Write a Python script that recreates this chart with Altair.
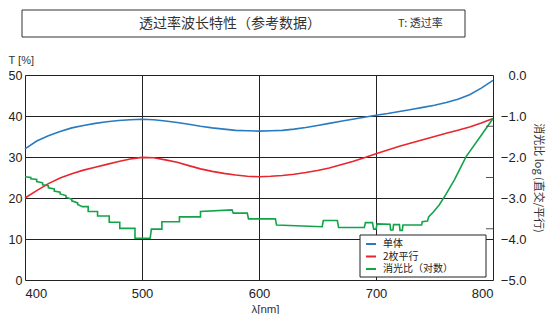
import altair as alt
import pandas as pd

# ---- data ----
wavelength = list(range(400, 801, 10))
single = [32.0, 33.9, 35.2, 36.2, 37.1, 37.7, 38.2, 38.6, 38.9, 39.1, 39.2,
          39.1, 38.8, 38.4, 38.0, 37.5, 37.1, 36.8, 36.5, 36.4, 36.3,
          36.4, 36.5, 36.8, 37.2, 37.7, 38.2, 38.7, 39.2, 39.7, 40.2,
          40.6, 41.1, 41.6, 42.1, 42.6, 43.3, 44.1, 45.2, 46.8, 48.7]
parallel = [20.0, 21.8, 23.5, 24.9, 25.9, 26.8, 27.5, 28.2, 28.9, 29.5, 29.9,
            29.8, 29.3, 28.7, 27.9, 27.1, 26.5, 26.0, 25.6, 25.3, 25.2,
            25.3, 25.5, 25.8, 26.2, 26.7, 27.3, 28.1, 28.9, 29.8, 30.8,
            31.7, 32.6, 33.4, 34.2, 35.0, 35.8, 36.5, 37.3, 38.3, 39.4]

ext_x = [400, 405, 405, 410, 410, 415, 415, 420, 420, 425, 425, 430, 430, 435, 435,
         440, 440, 445, 445, 449, 454, 454, 462, 462, 472, 472, 481, 481, 494, 494,
         507, 508, 517, 517, 532, 532, 550, 550, 577, 578, 590, 591, 614, 615, 654,
         655, 667, 668, 690, 691, 697, 698, 700, 701, 712, 712.5, 714.5, 715, 720,
         720.5, 722.5, 723, 739, 739.5, 744, 745, 749, 754, 760, 767, 777, 790, 800]
ext_v = [-2.48, -2.50, -2.53, -2.55, -2.60, -2.63, -2.68, -2.70, -2.75, -2.78, -2.83,
         -2.86, -2.90, -2.94, -2.98, -3.03, -3.07, -3.12, -3.16, -3.21, -3.21, -3.33,
         -3.33, -3.44, -3.44, -3.59, -3.59, -3.74, -3.74, -3.98, -3.98, -3.76, -3.76,
         -3.58, -3.58, -3.46, -3.46, -3.33, -3.29, -3.37, -3.37, -3.51, -3.51, -3.66,
         -3.70, -3.55, -3.55, -3.72, -3.72, -3.60, -3.60, -3.76, -3.76, -3.63, -3.64,
         -3.78, -3.78, -3.65, -3.65, -3.79, -3.79, -3.66, -3.66, -3.58, -3.56, -3.46,
         -3.34, -3.17, -2.90, -2.56, -1.99, -1.47, -1.06]

series_names = ["单体", "2枚平行", "消光比（对数）"]
series_colors = ["#2a7ac0", "#e8262d", "#13a34a"]
x_ticks = [400, 500, 600, 700, 800]
left_ticks = [0, 10, 20, 30, 40, 50]
right_ticks = [0, -1, -2, -3, -4, -5]
right_minor = [-1.25, -2.5, -3.75]

FONT = "Liberation Sans, Noto Sans CJK SC, sans-serif"
CJK = "Noto Sans CJK SC, Liberation Sans, sans-serif"

trans = pd.DataFrame({
    "wl": wavelength * 2,
    "T": single + parallel,
    "series": [series_names[0]] * len(wavelength) + [series_names[1]] * len(wavelength),
    "ord": list(range(len(wavelength))) * 2,
})
ext = pd.DataFrame({"wl": ext_x, "v": ext_v, "series": series_names[2],
                    "ord": list(range(len(ext_x)))})

xscale = alt.Scale(domain=[400, 800], nice=False)
color = alt.Color("series:N",
                  scale=alt.Scale(domain=series_names, range=series_colors),
                  sort=series_names,
                  legend=alt.Legend(title=None, orient="none", legendX=340, legendY=163,
                                    symbolType="stroke", symbolStrokeWidth=2, symbolSize=100,
                                    labelFont=CJK, labelFontSize=10, labelColor="#222",
                                    labelOffset=6, rowPadding=1.5, padding=0))


def make_xaxis():
    return alt.Axis(values=x_ticks, grid=True, gridColor="#222", gridWidth=1, ticks=False,
                    domain=False, labelFontSize=13, labelPadding=7, labelColor="#222",
                    labelFont=FONT, title="λ[nm]", titleFont=FONT, titleFontSize=11.5,
                    titleFontWeight="normal", titleColor="#333", titleX=240, titleY=29,
                    titleBaseline="middle", titleAlign="center")


left_lines = alt.Chart(trans).mark_line(strokeWidth=1.6).encode(
    x=alt.X("wl:Q", scale=xscale, axis=make_xaxis()),
    y=alt.Y("T:Q", scale=alt.Scale(domain=[0, 50], nice=False),
            axis=alt.Axis(orient="left", values=left_ticks, grid=True, gridColor="#222",
                          ticks=False, domain=False, labelFontSize=12.5, labelPadding=3,
                          labelColor="#222", labelFont=FONT, title="T [%]",
                          titleFont=FONT, titleFontSize=11, titleFontWeight="normal",
                          titleColor="#333", titleAngle=0, titleX=-17, titleY=-15,
                          titleAlign="left", titleBaseline="middle")),
    color=color,
    order="ord:Q",
)

right_line = alt.Chart(ext).mark_line(strokeWidth=1.6).encode(
    x=alt.X("wl:Q", scale=xscale, axis=make_xaxis()),
    y=alt.Y("v:Q", scale=alt.Scale(domain=[-5, 0], nice=False),
            axis=alt.Axis(orient="right", values=right_ticks, format=".1f", grid=False,
                          ticks=False, domain=False, labelFontSize=13, labelAlign="right",
                          labelPadding=33, labelColor="#222", labelFont=FONT,
                          title="消光比  log (直交/平行)", titleFont=CJK, titleFontSize=11,
                          titleFontWeight="normal", titleColor="#333", titleAngle=90,
                          titleX=44, titleY=102.5, titleAlign="center",
                          titleBaseline="middle")),
    color=color,
    order="ord:Q",
)

minor = alt.Chart(pd.DataFrame({"v": right_minor})).mark_rule(color="#555", strokeWidth=1).encode(
    y=alt.Y("v:Q", scale=alt.Scale(domain=[-5, 0], nice=False), axis=None),
    x=alt.value(461), x2=alt.value(468),
)

one = alt.Data(values=[{"a": 1}])
legend_box = alt.Chart(one).mark_rect(fill="white", stroke="#222", strokeWidth=1).encode(
    x=alt.value(335), x2=alt.value(461), y=alt.value(160), y2=alt.value(202))
title_box = alt.Chart(one).mark_rect(fill="white", fillOpacity=0, stroke="#333", strokeWidth=1).encode(
    x=alt.value(-3), x2=alt.value(440), y=alt.value(-65), y2=alt.value(-38))
title_text = alt.Chart(one).mark_text(font=CJK, fontSize=14, color="#333", align="center",
                                      baseline="middle").encode(
    x=alt.value(205), y=alt.value(-51.5), text=alt.value("透过率波长特性（参考数据）"))
t_text = alt.Chart(one).mark_text(font=CJK, fontSize=11, color="#333", align="left",
                                  baseline="middle").encode(
    x=alt.value(373), y=alt.value(-51.5), text=alt.value("T:  透过率"))

chart = alt.layer(left_lines, right_line, minor, legend_box, title_box, title_text, t_text).resolve_scale(
    y="independent"
).properties(
    width=468, height=205,
    autosize=alt.AutoSizeParams(type="none"),
    padding={"left": 17, "top": 67, "right": 53, "bottom": 34},
).configure_view(stroke="#333", strokeWidth=1).configure(font=FONT)

chart.save("out.html", embed_options={"renderer": "svg", "actions": False})
